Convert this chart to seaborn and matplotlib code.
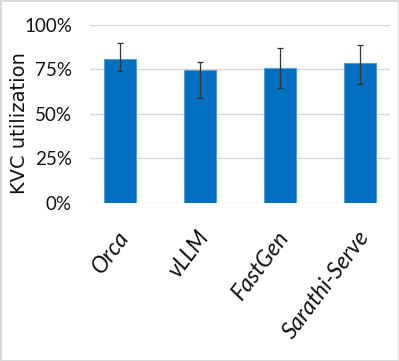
import matplotlib
matplotlib.use("Agg")
import matplotlib.pyplot as plt
import matplotlib.transforms as mtransforms
from matplotlib.ticker import PercentFormatter
import numpy as np
import pandas as pd
import seaborn as sns

# data
systems = ["Orca", "vLLM", "FastGen", "Sarathi-Serve"]
utilization = [0.807, 0.745, 0.757, 0.787]
err_low = [0.740, 0.590, 0.646, 0.667]
err_high = [0.899, 0.790, 0.869, 0.889]
yticks = [0, 0.25, 0.5, 0.75, 1.0]

df = pd.DataFrame({"system": systems, "util": utilization})

sns.set_style("white")
narrow = ["Lato", "DejaVu Sans"]

fig = plt.figure(figsize=(3.99, 3.61), dpi=100, edgecolor="#d9d9d9", linewidth=2)
ax = fig.add_axes([0.2256, 0.4377, 0.7519, 0.4931])

sns.barplot(data=df, x="system", y="util", width=0.4, color="#0070C0",
            saturation=1, edgecolor="#5b9bd5", linewidth=0.8, ax=ax, zorder=2)

util = np.array(utilization)
yerr = np.vstack([util - np.array(err_low), np.array(err_high) - util])
ax.errorbar(np.arange(len(systems)), util, yerr=yerr, fmt="none",
            ecolor="#333333", elinewidth=0.9, capsize=2, capthick=0.9, zorder=3)

ax.set_ylim(0, 1.0)
ax.set_yticks(yticks)
ax.yaxis.set_major_formatter(PercentFormatter(1.0, decimals=0))
ax.grid(axis="y", color="#d9d9d9", linewidth=1, zorder=0)
ax.set_axisbelow(True)
for s in ax.spines.values():
    s.set_visible(False)
ax.tick_params(axis="both", length=0)
ax.tick_params(axis="y", pad=13)

for lbl in ax.get_yticklabels():
    lbl.set_family(narrow)
    lbl.set_fontsize(13.5)
    lbl.set_color("#111111")

ax.set_xlabel("")
ax.set_xticks(range(len(systems)))
ax.set_xticklabels(systems, rotation=53, ha="right", va="center",
                   rotation_mode="anchor", family=narrow, style="italic",
                   fontsize=16.5, color="#111111")
ax.tick_params(axis="x", pad=22)
shift = mtransforms.ScaledTranslation(5 / 100, 0, fig.dpi_scale_trans)
for lbl in ax.get_xticklabels():
    lbl.set_transform(lbl.get_transform() + shift)

ax.set_ylabel("KVC utilization", fontsize=14, family="DejaVu Sans", color="#111111")
ax.yaxis.set_label_coords(-0.205, 0.45)

fig.savefig("out.png", dpi=100, edgecolor=fig.get_edgecolor())
